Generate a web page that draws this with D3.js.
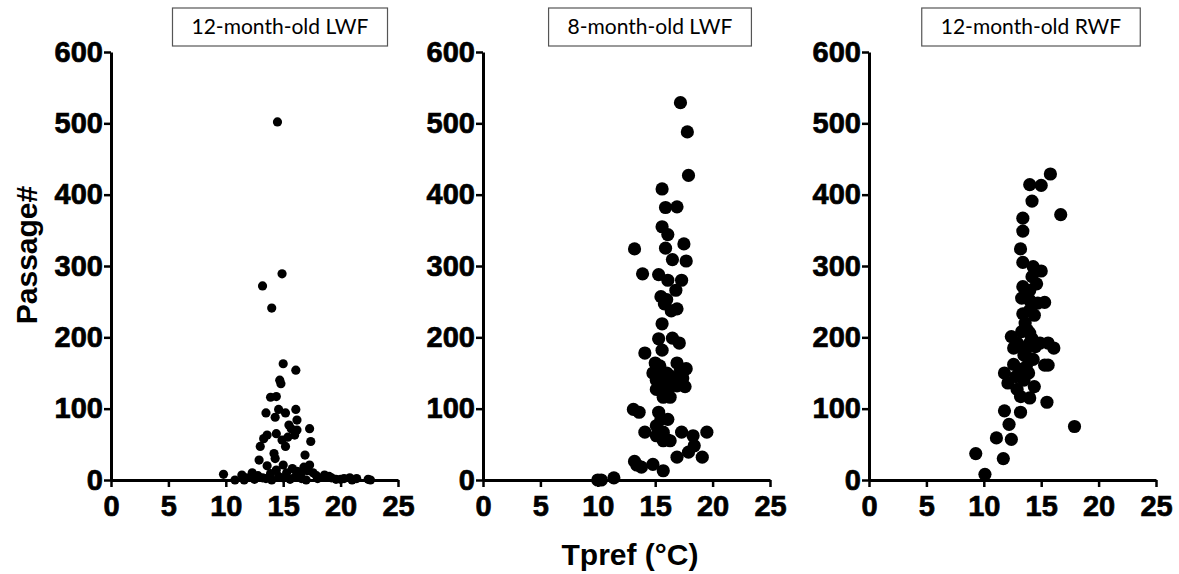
<!DOCTYPE html>
<html>
<head>
<meta charset="utf-8">
<script src="https://cdn.jsdelivr.net/npm/d3@7"></script>
<style>
  body { margin: 0; background: #fff; }
  .tick text { font-family: "Liberation Sans", Arial, sans-serif; font-weight: bold; }
</style>
</head>
<body>
<div id="chart"></div>
<script>
// panel titles
var titles = ["12-month-old LWF", "8-month-old LWF", "12-month-old RWF"];

// x = Tpref (°C), y = Passage#
var lwf12 = [
  [14.5,502],[14.9,289],[13.2,272],[14.0,241],
  [15.0,163],[16.1,154],[14.7,140],[14.8,135],[13.9,116],[14.4,117],
  [13.5,94],[14.6,99],[15.2,94],[16.1,99],[14.3,88],[16.2,84],
  [15.5,77],[15.7,72],[16.2,70],[16.0,63],[17.3,72],[17.4,54],
  [13.6,63],[13.3,58],[13.0,47],[14.4,65],[14.9,56],[15.2,47],[15.4,60],
  [16.9,35],[12.9,28],[14.2,37],[14.3,30],[13.6,20],[15.0,21],
  [9.8,8],[10.8,0],[11.4,7],[11.8,3],[12.3,10],[12.8,6],[13.2,3],[13.9,9],
  [14.4,14],[14.6,5],[15.3,10],[15.8,16],[16.2,12],[16.5,8],[16.8,18],
  [17.1,13],[17.3,21],[17.6,10],[17.9,6],[18.6,7],[19.0,5],[19.6,1],
  [20.3,2],[20.8,3],[21.4,2],[22.4,1],[22.6,0],[11.6,0],[12.5,1],[13.5,2],
  [14.0,0],[15.0,3],[15.6,1],[16.0,4],[16.6,2],[17.0,0],[18.0,2],[19.2,3],
  [20.0,1],[21.0,0]
];
var lwf8 = [
  [17.2,529],[17.8,488],[17.9,427],[15.6,408],[15.9,382],[16.9,383],
  [15.6,355],[16.1,344],[15.9,325],[17.5,331],[16.5,309],[17.7,307],
  [13.2,324],[13.9,289],[15.3,288],[16.1,280],[17.3,280],[16.8,266],
  [15.5,257],[16.0,253],[15.8,247],[16.4,237],[16.9,240],[15.6,219],
  [15.3,198],[16.5,199],[17.1,192],[15.6,182],[14.1,178],
  [15.0,164],[15.1,155],[14.8,150],[15.4,146],[16.0,150],[15.7,141],
  [15.1,140],[15.7,132],[16.1,127],[16.9,164],[17.2,155],[17.7,156],
  [17.4,143],[16.6,141],[16.9,132],[17.6,131],[16.3,146],[15.4,160],
  [15.1,127],[15.7,116],[16.3,116],
  [15.3,95],[15.5,85],[16.1,85],[15.1,76],[13.1,99],[13.6,95],
  [14.1,67],[15.7,67],[15.1,62],[16.0,57],[16.3,55],[15.7,55],
  [17.3,67],[18.3,62],[18.4,48],[17.9,39],[16.9,32],[19.1,32],[19.5,67],
  [13.2,26],[13.4,21],[13.8,18],[14.8,22],[15.7,13],
  [10.0,0],[10.3,0],[11.4,3]
];
var rwf12 = [
  [15.8,429],[14.0,414],[15.0,413],[14.2,391],[16.7,372],[13.4,367],
  [13.4,349],[13.2,324],[13.4,305],[14.3,299],[15.0,293],
  [13.4,271],[14.6,275],[14.0,266],[13.7,260],[14.2,285],
  [13.3,255],[14.0,252],[15.3,249],[14.7,248],
  [13.4,233],[14.4,231],[14.0,238],[13.6,220],[13.8,210],
  [12.4,201],[13.3,208],[14.0,206],[12.9,192],[14.0,192],[14.9,192],
  [15.6,192],[16.1,185],[13.6,180],[12.6,185],[14.2,198],[13.0,190],[14.5,187],
  [11.8,150],[12.1,136],[12.6,162],[13.2,155],[13.7,159],[14.3,169],
  [15.3,161],[15.6,161],[13.5,175],[14.1,170],[12.8,145],[13.5,140],[13.9,150],
  [12.9,127],[13.2,117],[14.4,131],[14.0,115],[15.5,109],[13.2,95],
  [11.8,97],[12.2,78],[11.1,59],[12.4,57],[9.3,37],[11.7,30],[10.1,8],
  [17.9,75]
];

var panels = [
  {data: lwf12, r: 4.6, left: 111, titleX: 280},
  {data: lwf8, r: 6.6, left: 483, titleX: 650},
  {data: rwf12, r: 6.6, left: 869, titleX: 1031}
];

var xTicks = [0, 5, 10, 15, 20, 25];
var yTicks = [0, 100, 200, 300, 400, 500, 600];

var W = 1179, H = 574,
  plotW = 287,
  plotTop = 52, plotBottom = 480;

var svg = d3.select("#chart").append("svg")
  .attr("width", W)
  .attr("height", H);

var x = d3.scaleLinear().domain([0, 25]).range([0, plotW]);
var y = d3.scaleLinear().domain([0, 600]).range([plotBottom, plotTop]);

panels.forEach(function(p, i) {
  var g = svg.append("g")
    .attr("transform", "translate(" + p.left + ",0)");

  var xa = g.append("g")
    .attr("transform", "translate(0," + plotBottom + ")")
    .call(d3.axisBottom(x).tickValues(xTicks).tickSize(7).tickPadding(8).tickSizeOuter(0));
  var ya = g.append("g")
    .call(d3.axisLeft(y).tickValues(yTicks).tickSize(7).tickPadding(1).tickSizeOuter(0));

  [xa, ya].forEach(function(a) {
    a.select(".domain").attr("stroke", "#000").attr("stroke-width", 3);
    a.selectAll(".tick line").attr("stroke", "#000").attr("stroke-width", 2.5);
    a.selectAll(".tick text").attr("fill", "#000")
      .attr("stroke", "#000").attr("stroke-width", 0.7)
      .style("font-size", "29px");
  });

  g.selectAll("circle")
    .data(p.data)
    .enter().append("circle")
    .attr("cx", function(d) { return x(d[0]); })
    .attr("cy", function(d) { return y(d[1]); })
    .attr("r", p.r)
    .attr("fill", "#000");

  // title box
  var tg = svg.append("g");
  var box = tg.append("rect");
  var t = tg.append("text")
    .attr("x", p.titleX)
    .attr("y", 34)
    .attr("text-anchor", "middle")
    .style("font-family", "Lato, 'Open Sans', sans-serif")
    .style("font-size", "21px")
    .attr("fill", "#000")
    .text(titles[i]);
  var bw = t.node().getComputedTextLength() + 38;
  box.attr("x", p.titleX - bw / 2)
    .attr("y", 8)
    .attr("width", bw)
    .attr("height", 38)
    .attr("fill", "#fff")
    .attr("stroke", "#555")
    .attr("stroke-width", 1.2);
});

svg.append("text")
  .attr("transform", "translate(37,255) rotate(-90)")
  .attr("text-anchor", "middle")
  .style("font-family", "'Liberation Sans', Arial, sans-serif")
  .style("font-weight", "bold")
  .style("font-size", "30px")
  .text("Passage#");

svg.append("text")
  .attr("x", 630)
  .attr("y", 565)
  .attr("text-anchor", "middle")
  .style("font-family", "'Liberation Sans', Arial, sans-serif")
  .style("font-weight", "bold")
  .style("font-size", "30px")
  .text("Tpref (°C)");
</script>
</body>
</html>
